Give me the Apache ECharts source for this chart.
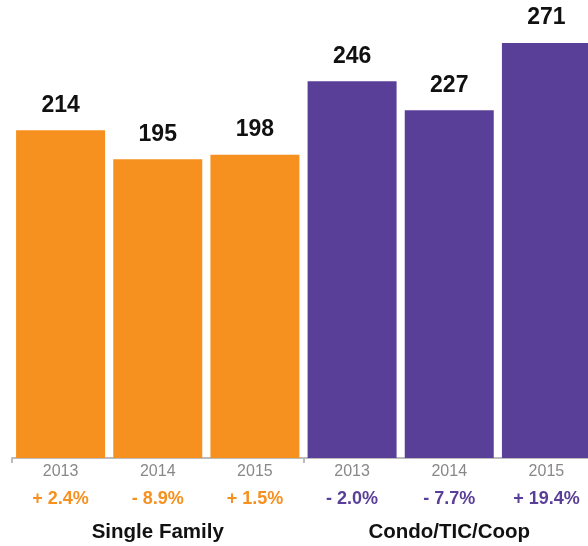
<!DOCTYPE html>
<html>
<head>
<meta charset="utf-8">
<script src="https://cdn.jsdelivr.net/npm/echarts@6/dist/echarts.min.js"></script>
<style>
    html, body { margin: 0; padding: 0; background: #fff; overflow: hidden; }
    /* the last bar runs past the right edge in the original, so the chart is a bit wider than the window */
    #chart { width: 595px; height: 546px; }
</style>
</head>
<body>
<div id="chart"></div>
<script>
// chart data
const years = ['2013', '2014', '2015', '2013', '2014', '2015'];
const sales = [214, 195, 198, 246, 227, 271];
const changes = ['+ 2.4%', '- 8.9%', '+ 1.5%', '- 2.0%', '- 7.7%', '+ 19.4%'];
const groups = ['Single Family', 'Condo/TIC/Coop'];
const groupOf = [0, 0, 0, 1, 1, 1];

const ORANGE = '#F6901E';
const PURPLE = '#5A3F98';
const groupColors = [ORANGE, PURPLE];
const FONT = '"Liberation Sans", Arial, Helvetica, sans-serif';

const chart = echarts.init(document.getElementById('chart'));

const option = {
    animation: false,
    grid: { left: 12, top: 0, right: 0, height: 458, containLabel: false },
    xAxis: [
        {
            type: 'category',
            data: years.map((y, i) => i),
            axisLine: { show: false },
            axisTick: { show: false },
            axisLabel: {
                margin: 4,
                interval: 0,
                formatter: (v, i) => '{y|' + years[i] + '}\n{' + (groupOf[i] ? 'p' : 'o') + '|' + changes[i] + '}',
                rich: {
                    y: { fontFamily: FONT, fontSize: 16, color: '#888', lineHeight: 20 },
                    o: { fontFamily: FONT, fontSize: 18, fontWeight: 'bold', color: ORANGE, lineHeight: 34 },
                    p: { fontFamily: FONT, fontSize: 18, fontWeight: 'bold', color: PURPLE, lineHeight: 34 }
                }
            }
        },
        {
            type: 'category',
            position: 'bottom',
            data: groups,
            axisLine: { show: true, lineStyle: { color: '#bbb', width: 2 } },
            axisTick: { show: true, length: 5, lineStyle: { color: '#bbb', width: 2 } },
            axisLabel: {
                margin: 62,
                fontFamily: FONT,
                fontSize: 20.5,
                fontWeight: 'bold',
                color: '#111',
                lineHeight: 24
            }
        }
    ],
    yAxis: {
        type: 'value',
        min: 0,
        max: 299,
        show: false,
        splitLine: { show: false }
    },
    series: [{
        type: 'bar',
        xAxisIndex: 0,
        barWidth: 89,
        data: sales.map((v, i) => ({ value: v, itemStyle: { color: groupColors[groupOf[i]] } })),
        label: {
            show: true,
            position: 'top',
            distance: 13,
            fontFamily: FONT,
            fontSize: 23,
            fontWeight: 'bold',
            color: '#111',
            lineHeight: 24
        }
    }]
};

chart.setOption(option);
</script>
</body>
</html>
